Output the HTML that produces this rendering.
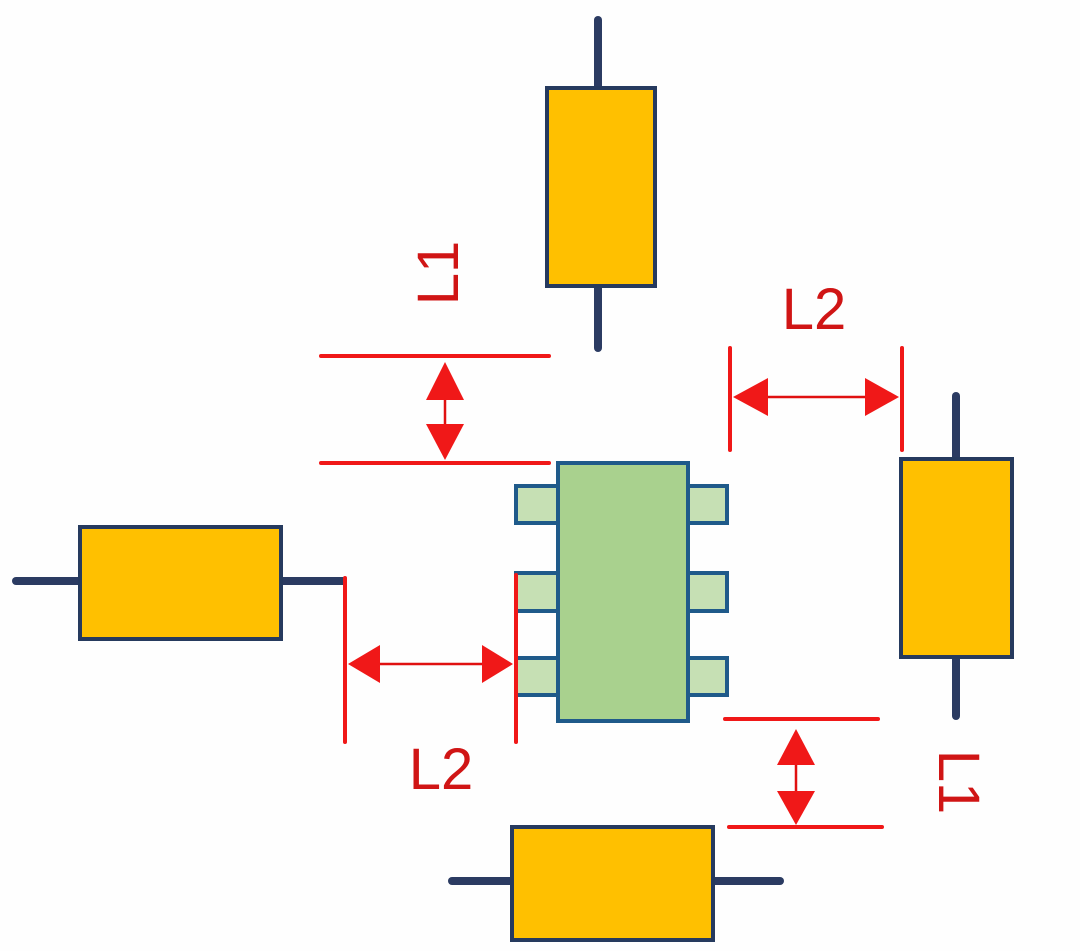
<!DOCTYPE html>
<html><head><meta charset="utf-8"><style>
html,body{margin:0;padding:0;background:#fff;}
svg{display:block;}
text{font-family:"Liberation Sans",sans-serif;fill:#d01515;}
</style></head><body>
<svg width="1080" height="951" viewBox="0 0 1080 951" xmlns="http://www.w3.org/2000/svg">
<rect width="1080" height="951" fill="#fefefe"/>
<g stroke="#2b3b62" stroke-width="8" stroke-linecap="round">
<line x1="598" y1="20" x2="598" y2="90"/><line x1="598" y1="284" x2="598" y2="348"/>
<line x1="16" y1="581" x2="82" y2="581"/><line x1="279" y1="581" x2="343" y2="581"/>
<line x1="956" y1="396" x2="956" y2="461"/><line x1="956" y1="655" x2="956" y2="716"/>
<line x1="452" y1="881" x2="514" y2="881"/><line x1="711" y1="881" x2="780" y2="881"/>
</g>
<g fill="#ffc000" stroke="#263a5e" stroke-width="4">
<rect x="547" y="88" width="108" height="198"/>
<rect x="80" y="527" width="201" height="112"/>
<rect x="901" y="459" width="111" height="198"/>
<rect x="512" y="827" width="201" height="113"/>
</g>
<g fill="#c6e0b4" stroke="#1f5a8a" stroke-width="4">
<rect x="516" y="486" width="44" height="37"/><rect x="516" y="573" width="44" height="38"/><rect x="516" y="658" width="44" height="37"/>
<rect x="688" y="486" width="39" height="37"/><rect x="688" y="573" width="39" height="38"/><rect x="688" y="658" width="39" height="37"/>
</g>
<rect x="558" y="463" width="130" height="258" fill="#a9d18e" stroke="#1f5a8a" stroke-width="4"/>
<g stroke="#f01818" stroke-width="4" stroke-linecap="round">
<line x1="321" y1="356" x2="549" y2="356"/><line x1="321" y1="463" x2="549" y2="463"/>
<line x1="730" y1="348" x2="730" y2="450"/><line x1="902" y1="348" x2="902" y2="450"/>
<line x1="345" y1="578" x2="345" y2="742"/><line x1="516" y1="575" x2="516" y2="742"/>
<line x1="725" y1="719" x2="878" y2="719"/><line x1="729" y1="827" x2="882" y2="827"/>
</g>
<g stroke="#e01010" stroke-width="2.5">
<line x1="445" y1="395" x2="445" y2="430"/>
<line x1="765" y1="397" x2="868" y2="397"/>
<line x1="378" y1="664" x2="484" y2="664"/>
<line x1="796" y1="760" x2="796" y2="795"/>
</g>
<g fill="#f01818">
<polygon points="445,362 426,400 464,400"/><polygon points="445,460 426,424 464,424"/>
<polygon points="733,397 768,378 768,416"/><polygon points="899,397 865,378 865,416"/>
<polygon points="348,664 380,645 380,683"/><polygon points="513,664 482,645 482,683"/>
<polygon points="796,729 777,765 815,765"/><polygon points="796,825 777,791 815,791"/>
</g>
<text x="814" y="329" font-size="58" text-anchor="middle">L2</text>
<text x="441" y="789" font-size="58" text-anchor="middle">L2</text>
<text transform="translate(458,273) rotate(-90)" font-size="58" text-anchor="middle">L1</text>
<text transform="translate(939,782) rotate(90)" font-size="58" text-anchor="middle">L1</text>
</svg>
</body></html>
